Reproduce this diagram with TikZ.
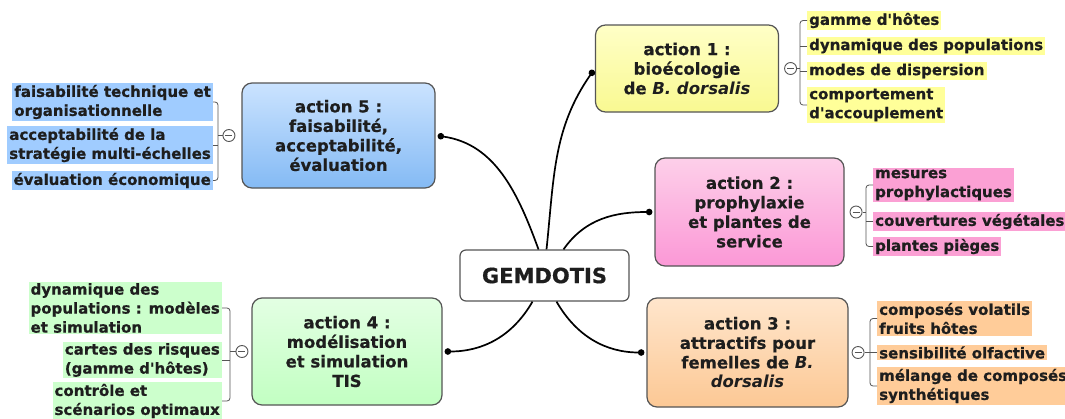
\documentclass[tikz,border=0pt]{standalone}
\usepackage{fontspec}
\setmainfont{DejaVu Sans}[Ligatures=TeXOff, BoldFeatures={FakeBold=0.6}]
\usepackage{tikz}
\usetikzlibrary{positioning}
\usetikzlibrary{arrows.meta}
\definecolor{boxline}{HTML}{555555}
\definecolor{texte}{HTML}{1E1E1E}
\definecolor{jaune}{HTML}{FFFF99}
\definecolor{rose}{HTML}{FBA0D4}
\definecolor{orange}{HTML}{FFCC99}
\definecolor{vert}{HTML}{CCFFCC}
\definecolor{bleu}{HTML}{A0CCFF}
\definecolor{bleufonce}{HTML}{84BAF4}
\newcommand{\actionfont}{\fontsize{16.5}{19.5}\selectfont\bfseries}
\newcommand{\leaffont}{\fontsize{15}{19}\selectfont\bfseries}
\tikzset{
	x=1pt, y=1pt,
	action/.style = {rounded corners=10pt, draw=boxline, line width=1.2pt,
	  align=center, inner sep=2pt, text=texte, font=\actionfont},
	leaf/.style = {inner xsep=2pt, inner ysep=1.5pt, align=left, text=texte, font=\leaffont},
	link/.style = {line width=1.7pt, shorten >=2pt, -{Circle[length=6.5pt]}},
	brace/.style = {draw=boxline, line width=0.8pt, rounded corners=3pt},
	minus/.style = {circle, draw=boxline, fill=white, line width=0.9pt,
	  minimum size=12pt, inner sep=0pt,
	  path picture={\draw[boxline, line width=1pt]
	    ([xshift=-3.5pt]path picture bounding box.center) --
	    ([xshift=3.5pt]path picture bounding box.center);}},
}

\begin{document}
\begin{tikzpicture}
  \useasboundingbox[fill=white] (0,0) rectangle (1065,-418);

  % centre
  \node (Gemdotis) [action, rounded corners=6pt, fill=white, minimum width=169,
    minimum height=51, font=\fontsize{21}{24}\selectfont\bfseries]
    at (544.5,-275.5) {GEMDOTIS};

  % actions
  \node (Bioecologie) [action, top color=jaune!55, bottom color=jaune!95!olive,
    minimum width=183, minimum height=87] at (687,-68.5)
    {action 1 :\\bioécologie\\de \textit{B. dorsalis}};
  \node (Prophylaxie) [action, top color=rose!50, bottom color=rose!95!magenta,
    minimum width=189, minimum height=108] at (749.5,-212)
    {action 2 :\\prophylaxie\\et plantes de\\service};
  \node (Attractifs) [action, top color=orange!50, bottom color=orange!95!brown,
    minimum width=201, minimum height=109] at (747.5,-352.5)
    {action 3 :\\attractifs pour\\femelles de \textit{B.}\\\textit{dorsalis}};
  \node (Modelisation) [action, top color=vert!55, bottom color=vert!95!green,
    minimum width=190, minimum height=107] at (347,-351.5)
    {action 4 :\\modélisation\\et simulation\\TIS};
  \node (Faisabilite) [action, top color=bleu!55, bottom color=bleufonce,
    minimum width=193, minimum height=105] at (338.5,-135.5)
    {action 5 :\\faisabilité,\\acceptabilité,\\évaluation};

  % liens
  \draw[link] ([xshift=2pt]Gemdotis.north) to[out=84,in=235] (Bioecologie.west);
  \draw[link] ([xshift=19pt]Gemdotis.north) to[out=55,in=180] (Prophylaxie.west);
  \draw[link] ([xshift=12pt]Gemdotis.south) to[out=-60,in=180] (Attractifs.west);
  \draw[link] ([xshift=-12pt]Gemdotis.south) to[out=-120,in=0] (Modelisation.east);
  \draw[link] ([xshift=-6pt]Gemdotis.north) to[out=110,in=-8] (Faisabilite.east);

  % action 1
  \node (Moins1) [minus, right=5pt of Bioecologie] {};
  \node (Gamme) [leaf, fill=jaune, anchor=west] at (807,-20.5) {gamme d'hôtes};
  \node (Dynamique) [leaf, fill=jaune, anchor=west] at (807,-46) {dynamique des populations};
  \node (Dispersion) [leaf, fill=jaune, anchor=west] at (807,-71) {modes de dispersion};
  \node (Accouplement) [leaf, fill=jaune, anchor=west] at (807,-105) {comportement\\d'accouplement};
  \draw[brace] (Gamme.west) -- ++(-7,0) |- (Accouplement.west);
  \draw[brace] (Dynamique.west) -- ++(-7,0);
  \draw[brace] (Dispersion.west) -- ++(-7,0);
  \draw[brace] (Moins1.east) -- ([xshift=-7pt]Moins1.east -| Gamme.west);

  % action 2
  \node (Moins2) [minus, right=5pt of Prophylaxie] {};
  \node (Mesures) [leaf, fill=rose, anchor=west] at (873,-185) {mesures\\prophylactiques};
  \node (Couvertures) [leaf, fill=rose, anchor=west] at (873,-221.5) {couvertures végétales};
  \node (Pieges) [leaf, fill=rose, anchor=west] at (873,-246.5) {plantes pièges};
  \draw[brace] (Mesures.west) -- ++(-7,0) |- (Pieges.west);
  \draw[brace] (Couvertures.west) -- ++(-7,0);
  \draw[brace] (Moins2.east) -- ([xshift=-7pt]Moins2.east -| Mesures.west);

  % action 3
  \node (Moins3) [minus, right=3pt of Attractifs] {};
  \node (Volatils) [leaf, fill=orange, anchor=west] at (877,-318.5) {composés volatils\\fruits hôtes};
  \node (Olfactive) [leaf, fill=orange, anchor=west] at (877,-352.5) {sensibilité olfactive};
  \node (Melange) [leaf, fill=orange, anchor=west] at (877,-386) {mélange de composés\\synthétiques};
  \draw[brace] (Volatils.west) -- ++(-7,0) |- (Melange.west);
  \draw[brace] (Olfactive.west) -- ++(-7,0);
  \draw[brace] (Moins3.east) -- ([xshift=-7pt]Moins3.east -| Volatils.west);

  % action 4
  \node (Moins4) [minus, left=3pt of Modelisation] {};
  \node (Populations) [leaf, fill=vert, anchor=east] at (222,-308) {dynamique des\\populations : modèles\\et simulation};
  \node (Cartes) [leaf, fill=vert, anchor=east] at (222,-360) {cartes des risques\\(gamme d'hôtes)};
  \node (Controle) [leaf, fill=vert, anchor=east] at (222,-401) {contrôle et\\scénarios optimaux};
  \draw[brace] (Populations.east) -- ++(8,0) |- (Controle.east);
  \draw[brace] (Cartes.east) -- ++(8,0);
  \draw[brace] (Moins4.west) -- ([xshift=8pt]Moins4.west -| Cartes.east);

  % action 5
  \node (Moins5) [minus, left=6pt of Faisabilite] {};
  \node (Technique) [leaf, fill=bleu, anchor=east] at (213,-102) {faisabilité technique et\\organisationnelle};
  \node (Acceptabilite) [leaf, fill=bleu, anchor=east] at (213,-145) {acceptabilité de la\\stratégie multi-échelles};
  \node (Economique) [leaf, fill=bleu, anchor=east] at (213,-180.5) {évaluation économique};
  \draw[brace] (Technique.east) -- ++(5,0) |- (Economique.east);
  \draw[brace] (Acceptabilite.east) -- ++(5,0);
  \draw[brace] (Moins5.west) -- ([xshift=5pt]Moins5.west -| Technique.east);
\end{tikzpicture}
\end{document}
